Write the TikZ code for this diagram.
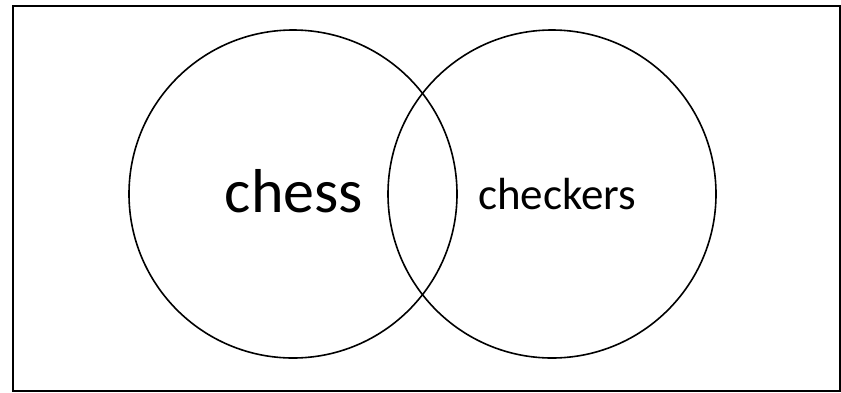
\documentclass[tikz,border=0pt]{standalone}
\usepackage{fontspec}
\setmainfont{Carlito}
\begin{document}
\begin{tikzpicture}[x=1pt,y=-1pt,
  ring/.style={draw=black,line width=1.6pt,circle,minimum size=328pt,inner sep=0pt},
  frame/.style={draw=black,line width=2.2pt},
  lbl/.style={anchor=base,inner sep=0pt,text=black}]
\useasboundingbox (0,0) rectangle (841,392);
\draw[frame] (13,6) rectangle (840,391);
\node[ring] (left) at (293,194) {};
\node[ring] (right) at (552,194) {};
\node[lbl,font=\fontsize{62}{70}\selectfont] (chess) at (294,212) {chess};
\node[lbl,font=\fontsize{45}{52}\selectfont] (checkers) at (557,209) {checkers};
\end{tikzpicture}
\end{document}
